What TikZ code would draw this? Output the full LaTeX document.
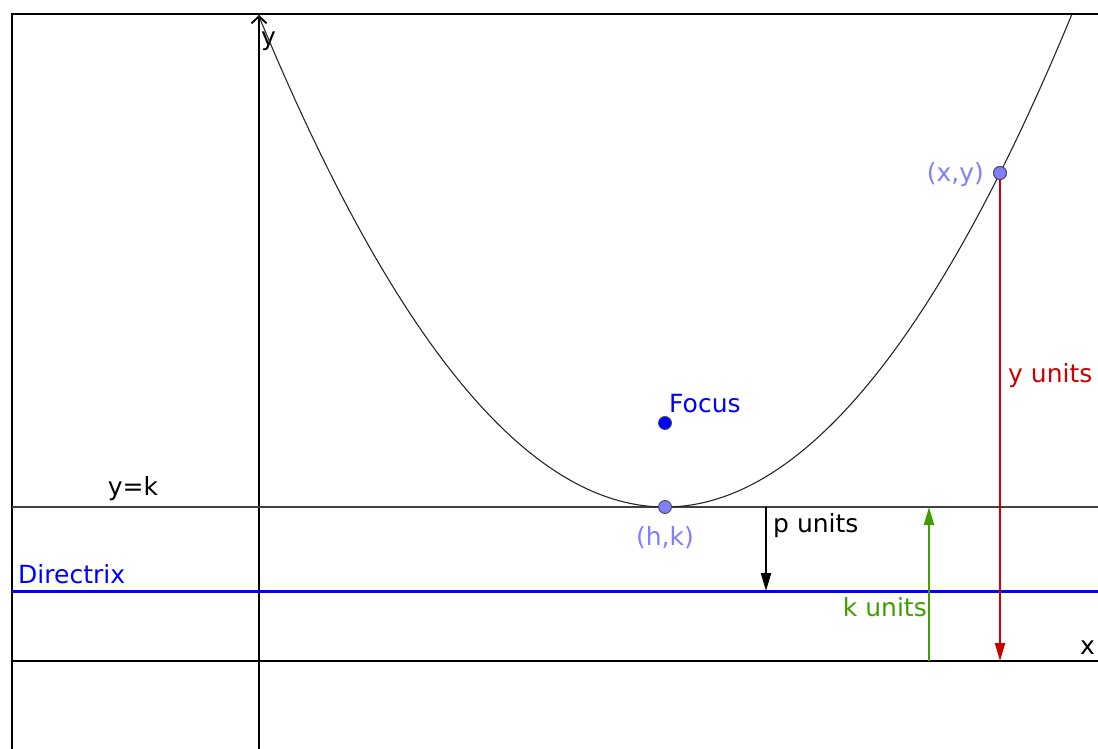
\documentclass[tikz,border=0pt]{standalone}
\usepackage{fontspec}
\setmainfont{DejaVu Sans}
\usetikzlibrary{arrows.meta}
\definecolor{dirBlue}{HTML}{0000FF}
\definecolor{ptBlue}{HTML}{7F7FFF}
\definecolor{accRed}{HTML}{CC0000}
\definecolor{accGreen}{HTML}{3F9F00}

\begin{document}
\begin{tikzpicture}[x=1pt, y=-1pt,
        font=\fontsize{25}{29}\selectfont, >=Triangle,
        frm/.style={line width=2.2pt},
        axis/.style={line width=1.9pt},
        thin/.style={line width=1.1pt, draw=black!75},
        arr/.style={line width=2.2pt, -{Triangle[length=18pt, width=10pt]}},
        pt/.style={circle, draw=black!70, line width=0.9pt, fill=ptBlue, minimum size=13pt, inner sep=0pt},
        fpt/.style={pt, fill=dirBlue},
        lbl/.style={inner sep=0pt}]
        \useasboundingbox (0,0) rectangle (1098,749);
        % frame and axes
        \draw[frm] (12,749) -- (12,14) -- (1098,14);
        \coordinate (ybot) at (259,749); \coordinate (ytop) at (259,15);
        \coordinate (xl) at (12,661); \coordinate (xr) at (1098,661);
        \draw[axis, -{Straight Barb[length=7pt, width=15pt]}] (ybot) -- (ytop);
        \draw[axis] (xl) -- (xr);
        \node[lbl, anchor=west] (ylab) at (261,41) {y};
        \node[lbl, anchor=west] (xlab) at (1080,648) {x};
        % y=k and directrix
        \coordinate (kl) at (12,507); \coordinate (kr) at (1098,507);
        \coordinate (dl) at (12,591); \coordinate (dr) at (1098,591);
        \draw[thin] (kl) -- (kr);
        \draw[line width=3pt, dirBlue] (dl) -- (dr);
        \node[lbl] (yk) at (133,489) {y=k};
        \node[lbl, anchor=west, text=dirBlue] (dirlab) at (18,574) {Directrix};
        % parabola
        \draw[line width=1.1pt, black!85] (258,14) .. controls (529.33,671.33) and (800.67,671.33) .. (1072,14);
        % unit arrows
        \coordinate (p1) at (766,507); \coordinate (p2) at (766,591);
        \coordinate (k1) at (929,661); \coordinate (k2) at (929,507);
        \coordinate (y2) at (1000,661);
        \node[pt] (xy) at (1000,173) {};
        \draw[arr] (p1) -- (p2);
        \draw[arr, accGreen] (k1) -- (k2);
        \draw[arr, accRed] (xy.center) -- (y2);
        \node[lbl, anchor=west] (plab) at (773,526) {p units};
        \node[lbl, anchor=east, text=accGreen] (klab) at (927,607) {k units};
        \node[lbl, anchor=west, text=accRed] (ylab2) at (1008,376) {y units};
        % points
        \node[pt] (hk) at (665,507) {};
        \node[pt] at (xy) {};
        \node[fpt] (foc) at (665,423) {};
        \node[lbl, text=ptBlue] (hklab) at (665,538) {(h,k)};
        \node[lbl, anchor=east, text=ptBlue] (xylab) at (984,175) {(x,y)};
        \node[lbl, anchor=west, text=dirBlue] (foclab) at (669,404) {Focus};
      \end{tikzpicture}
\end{document}
